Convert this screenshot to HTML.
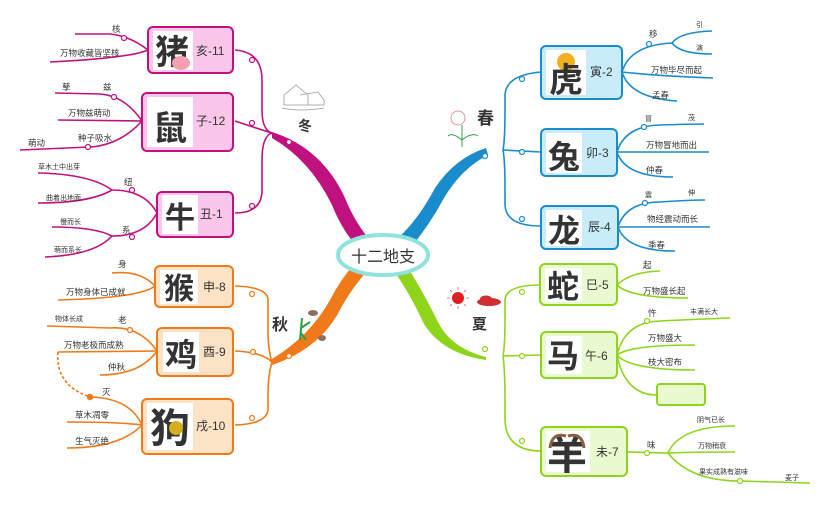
<!DOCTYPE html>
<html><head><meta charset="utf-8"><style>
body{margin:0;background:#fff}
svg text{font-family:"Liberation Sans","Noto Sans CJK SC",sans-serif;fill:#333}
.big{font-weight:bold}
</style></head><body>
<svg width="832" height="500" viewBox="0 0 832 500" xmlns="http://www.w3.org/2000/svg">
<defs><marker id="ar" markerWidth="6" markerHeight="6" refX="3" refY="3" orient="auto"><circle cx="3" cy="3" r="2" fill="#f07a1a"/></marker></defs>
<path d="M272,132 Q322,148 345,198 Q356,225 372,242 L358,248 Q342,230 332,205 Q310,160 272,138Z" fill="#c0127f"/>
<path d="M486,148 Q455,158 435,188 Q418,220 398,238 L412,246 Q430,224 444,198 Q462,168 488,155Z" fill="#1a8ccc"/>
<path d="M272,365 Q322,348 342,306 Q354,285 370,268 L356,262 Q340,280 330,300 Q310,336 272,359Z" fill="#f07a1a"/>
<path d="M486,357 Q450,348 437,320 Q422,290 408,268 L396,274 Q410,294 424,324 Q443,354 486,360Z" fill="#8ed41a"/>
<ellipse cx="383" cy="255" rx="45" ry="20" fill="#fff" stroke="#8ee3dc" stroke-width="4"/>
<text x="383" y="262" font-size="16" text-anchor="middle">十二地支</text>

<g fill="none" stroke="#c0127f" stroke-width="1.6">
<path d="M272,133 Q262,130 262,110 L262,80 Q262,52 235,50"/>
<path d="M272,133 Q262,130 235,121"/>
<path d="M272,133 Q262,136 262,160 L262,190 Q262,213 235,213"/>
<path d="M148,50 Q130,36 110,34 L75,34"/>
<path d="M148,50 Q130,58 50,62"/>
<path d="M142,121 Q125,96 100,94 L55,93"/>
<path d="M142,121 L58,120"/>
<path d="M142,121 Q120,145 90,147 L20,150"/>
<path d="M157,213 Q145,190 112,190 Q90,174 38,173"/>
<path d="M112,190 Q90,203 38,203"/>
<path d="M157,213 Q145,236 112,236 Q95,227 52,227"/>
<path d="M112,236 Q95,255 45,257"/>
</g>
<g fill="#fff" stroke="#c0127f" stroke-width="1.2">
<circle cx="252" cy="60" r="2.5"/><circle cx="252" cy="123" r="2.5"/><circle cx="252" cy="206" r="2.5"/><circle cx="289" cy="142" r="2.5"/>
<circle cx="124" cy="38" r="2.5"/><circle cx="114" cy="97" r="2.5"/><circle cx="88" cy="147" r="2.5"/><circle cx="132" cy="190" r="2.5"/><circle cx="132" cy="237" r="2.5"/>
</g>
<g fill="#fcc6ea" stroke="#c0127f" stroke-width="2">
<rect x="148" y="27" width="85" height="46" rx="5"/><rect x="142" y="93" width="91" height="58" rx="5"/><rect x="157" y="192" width="76" height="45" rx="5"/>
</g>
<g fill="#fff"><rect x="153" y="31" width="40" height="39"/><rect x="147" y="97" width="46" height="50"/><rect x="162" y="195" width="36" height="39"/></g>
<text class="big" x="172" y="64" font-size="34" text-anchor="middle" fill="#111">猪</text>
<ellipse cx="181" cy="63" rx="9" ry="7" fill="#f5a0b0"/>
<text class="big" x="170" y="140" font-size="34" text-anchor="middle" fill="#111">鼠</text>
<text class="big" x="180" y="228" font-size="30" text-anchor="middle" fill="#111">牛</text>
<text x="196" y="55" font-size="12">亥-11</text><text x="196" y="125" font-size="12">子-12</text><text x="200" y="218" font-size="12">丑-1</text>
<g font-size="8.5"><text x="112" y="32">核</text><text x="60" y="56">万物收藏皆坚核</text><text x="62" y="90">孳</text><text x="103" y="90">兹</text><text x="68" y="116">万物兹萌动</text><text x="78" y="141">种子吸水</text><text x="28" y="146">萌动</text>
<text x="124" y="185">纽</text><text x="38" y="169" font-size="7">草木土中出芽</text><text x="46" y="200" font-size="7">曲着出地面</text><text x="122" y="233">系</text><text x="60" y="224" font-size="7">慢而长</text><text x="54" y="252" font-size="7">萌而系长</text></g>
<g fill="none" stroke="#999" stroke-width="0.8"><path d="M284,105 L284,95 L296,85 L308,95 L308,105Z M300,95 L318,92 L324,100 L324,105 L308,105"/><path d="M282,108 Q300,112 324,108"/></g>
<text x="298" y="131" font-size="14" font-weight="bold" fill="#222">冬</text>

<g fill="none" stroke="#f07a1a" stroke-width="1.6">
<path d="M272,362 Q268,350 268,330 L268,300 Q268,287 235,286"/>
<path d="M272,362 Q262,352 235,351"/>
<path d="M272,362 Q268,375 268,395 L268,410 Q266,424 235,425"/>
<path d="M155,286 Q140,270 112,273"/>
<path d="M155,286 Q140,298 58,300"/>
<path d="M157,351 Q140,326 110,328 L47,326"/>
<path d="M157,351 L58,352"/>
<path d="M157,351 Q140,375 100,375"/>
<path d="M142,425 Q130,398 90,397"/>
<path d="M142,425 Q120,422 67,422"/>
<path d="M142,425 Q120,448 67,448"/>
<path d="M58,352 Q55,385 90,397" stroke-dasharray="3,2" marker-end="url(#ar)"/>
</g>
<g fill="#fff" stroke="#f07a1a" stroke-width="1.2">
<circle cx="252" cy="294" r="2.5"/><circle cx="253" cy="352" r="2.5"/><circle cx="252" cy="418" r="2.5"/><circle cx="289" cy="356" r="2.5"/><circle cx="130" cy="330" r="2.5"/>
</g>
<g fill="#fde3c5" stroke="#f07a1a" stroke-width="2">
<rect x="155" y="266" width="78" height="41" rx="5"/><rect x="157" y="328" width="76" height="48" rx="5"/><rect x="142" y="399" width="91" height="55" rx="5"/>
</g>
<g fill="#fff"><rect x="160" y="270" width="38" height="34"/><rect x="163" y="332" width="36" height="40"/><rect x="147" y="403" width="46" height="47"/></g>
<text class="big" x="179" y="299" font-size="30" text-anchor="middle" fill="#111">猴</text>
<text class="big" x="181" y="366" font-size="32" text-anchor="middle" fill="#111">鸡</text>
<text class="big" x="170" y="442" font-size="40" text-anchor="middle" fill="#111">狗</text>
<circle cx="176" cy="428" r="7" fill="#d4b020"/>
<text x="203" y="291" font-size="12">申-8</text><text x="203" y="356" font-size="12">酉-9</text><text x="196" y="430" font-size="12">戌-10</text>
<g font-size="8.5"><text x="118" y="267">身</text><text x="66" y="295">万物身体已成就</text><text x="55" y="321" font-size="7">物体长成</text><text x="118" y="323">老</text><text x="64" y="348">万物老极而成熟</text><text x="108" y="370">仲秋</text><text x="102" y="395">灭</text><text x="75" y="418">草木凋零</text><text x="75" y="444">生气灭绝</text></g>
<text x="272" y="330" font-size="16" font-weight="bold" fill="#222">秋</text>
<path d="M300,340 L302,318 M301,328 L310,322 M301,333 L306,340" stroke="#2aa040" stroke-width="2" fill="none"/>
<ellipse cx="313" cy="313" rx="5" ry="3" fill="#8a7060"/><ellipse cx="322" cy="338" rx="4" ry="3" fill="#8a7060"/>

<g fill="none" stroke="#1a8ccc" stroke-width="1.6">
<path d="M503,150 Q505,140 505,110 L505,95 Q506,75 541,72"/>
<path d="M503,150 L541,152"/>
<path d="M503,150 Q505,160 505,190 L505,205 Q506,226 541,226"/>
<path d="M622,72 Q630,45 672,43 Q680,32 712,31"/>
<path d="M672,43 Q680,54 712,54"/>
<path d="M622,72 Q660,76 713,78"/>
<path d="M622,72 Q630,98 677,101"/>
<path d="M617,152 Q625,126 660,125 Q690,124 704,124"/>
<path d="M617,152 L709,152"/>
<path d="M617,152 Q625,177 673,177"/>
<path d="M618,227 Q626,202 660,202 Q690,200 705,200"/>
<path d="M618,227 L710,227"/>
<path d="M618,227 Q626,251 675,251"/>
</g>
<g fill="#fff" stroke="#1a8ccc" stroke-width="1.2">
<circle cx="522" cy="79" r="2.5"/><circle cx="522" cy="152" r="2.5"/><circle cx="522" cy="219" r="2.5"/><circle cx="485" cy="156" r="2.5"/>
<circle cx="649" cy="44" r="2.5"/><circle cx="644" cy="127" r="2.5"/><circle cx="645" cy="203" r="2.5"/>
</g>
<g fill="#c9ecfa" stroke="#1a8ccc" stroke-width="2">
<rect x="541" y="46" width="81" height="53" rx="5"/><rect x="541" y="129" width="76" height="47" rx="5"/><rect x="541" y="206" width="77" height="43" rx="5"/>
</g>
<g fill="#fff"><rect x="546" y="50" width="40" height="45"/><rect x="546" y="133" width="36" height="40"/><rect x="546" y="210" width="36" height="36"/></g>
<circle cx="566" cy="62" r="9" fill="#f0b020"/>
<text class="big" x="566" y="92" font-size="34" text-anchor="middle" fill="#111">虎</text>
<text class="big" x="564" y="168" font-size="32" text-anchor="middle" fill="#111">兔</text>
<text class="big" x="564" y="242" font-size="32" text-anchor="middle" fill="#111">龙</text>
<text x="590" y="76" font-size="12">寅-2</text><text x="586" y="157" font-size="12">卯-3</text><text x="588" y="231" font-size="12">辰-4</text>
<g font-size="8.5"><text x="649" y="37">移</text><text x="696" y="27" font-size="7">引</text><text x="696" y="50" font-size="7">演</text><text x="651" y="73">万物毕尽而起</text><text x="652" y="98">孟春</text>
<text x="645" y="121" font-size="7">冒</text><text x="688" y="120" font-size="7">茂</text><text x="646" y="148">万物冒地而出</text><text x="646" y="173">仲春</text>
<text x="645" y="197" font-size="7">震</text><text x="688" y="195" font-size="7">伸</text><text x="647" y="222">物经震动而长</text><text x="648" y="248">季春</text></g>
<text x="477" y="124" font-size="17" font-weight="bold" fill="#222">春</text>
<circle cx="458" cy="118" r="7" fill="none" stroke="#d99" stroke-width="1"/>
<path d="M462,147 L462,125 M462,140 Q452,132 448,136 M462,140 Q472,132 478,136" stroke="#2aa040" fill="none"/>

<g fill="none" stroke="#8ed41a" stroke-width="1.6">
<path d="M503,356 Q505,345 505,320 L505,300 Q506,285 540,285"/>
<path d="M503,356 L541,355"/>
<path d="M503,356 Q505,370 505,400 L505,420 Q506,451 541,451"/>
<path d="M617,285 Q630,272 660,271"/>
<path d="M617,285 Q630,298 688,298"/>
<path d="M617,355 Q625,322 660,321 Q700,319 730,318"/>
<path d="M617,355 Q630,345 695,345"/>
<path d="M617,355 Q630,370 695,370"/>
<path d="M617,355 Q625,395 657,395"/>
<path d="M627,452 L668,453 Q680,426 735,426"/>
<path d="M668,453 Q690,452 735,452"/>
<path d="M668,453 Q690,481 740,481 Q780,482 810,483"/>
</g>
<g fill="#fff" stroke="#8ed41a" stroke-width="1.2">
<circle cx="522" cy="292" r="2.5"/><circle cx="522" cy="356" r="2.5"/><circle cx="522" cy="441" r="2.5"/><circle cx="485" cy="349" r="2.5"/>
<circle cx="647" cy="321" r="2.5"/><circle cx="647" cy="453" r="2.5"/><circle cx="740" cy="481" r="2.5"/>
</g>
<g fill="#eafad0" stroke="#8ed41a" stroke-width="2">
<rect x="540" y="264" width="77" height="41" rx="5"/><rect x="541" y="332" width="76" height="46" rx="5"/><rect x="657" y="384" width="48" height="21" rx="3"/><rect x="541" y="427" width="86" height="49" rx="5"/>
</g>
<g fill="#fff"><rect x="545" y="268" width="37" height="34"/><rect x="546" y="336" width="36" height="38"/><rect x="546" y="431" width="44" height="41"/></g>
<text class="big" x="563" y="298" font-size="32" text-anchor="middle" fill="#111">蛇</text>
<text class="big" x="563" y="367" font-size="32" text-anchor="middle" fill="#111">马</text>
<text class="big" x="567" y="469" font-size="40" text-anchor="middle" fill="#111">羊</text>
<path d="M550,448 Q552,432 566,436 M584,448 Q582,432 568,436" stroke="#8a6040" stroke-width="3" fill="none"/>
<text x="586" y="289" font-size="12">巳-5</text><text x="585" y="360" font-size="12">午-6</text><text x="596" y="456" font-size="12">未-7</text>
<g font-size="8.5"><text x="643" y="268">起</text><text x="643" y="294">万物盛长起</text><text x="648" y="316">忤</text><text x="690" y="314" font-size="7">丰满长大</text><text x="648" y="341">万物盛大</text><text x="648" y="365">枝大密布</text>
<text x="647" y="448">味</text><text x="697" y="422" font-size="7">阴气已长</text><text x="698" y="448" font-size="7">万物稍衰</text><text x="699" y="474" font-size="7">果实成熟有滋味</text><text x="785" y="480" font-size="7">麦子</text></g>
<circle cx="458" cy="298" r="6" fill="#e02020"/>
<g stroke="#e06060" stroke-width="0.8"><path d="M458,287 L458,290 M458,306 L458,309 M447,298 L450,298 M466,298 L469,298 M450,290 L452,292 M464,304 L466,306 M466,290 L464,292 M450,306 L452,304"/></g>
<ellipse cx="489" cy="302" rx="12" ry="4" fill="#d03030"/><ellipse cx="486" cy="299" rx="6" ry="3.5" fill="#d03030"/>
<text x="472" y="329" font-size="15" font-weight="bold" fill="#222">夏</text>
</svg>
</body></html>
